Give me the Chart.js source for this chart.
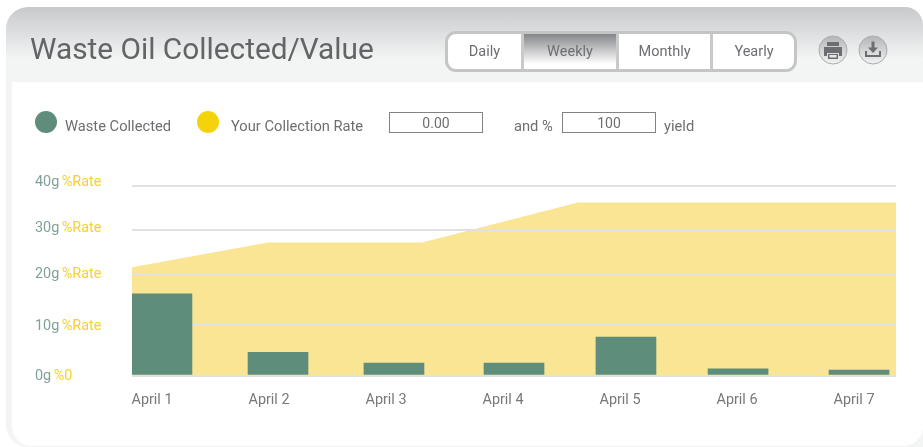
<!DOCTYPE html>
<html>
<head>
<meta charset="utf-8">
<title>Waste Oil Collected/Value</title>
<script src="https://cdn.jsdelivr.net/npm/chart.js@4"></script>
<style>
    html, body { margin: 0; padding: 0; background: #fff; overflow: hidden; }
    body { width: 923px; height: 447px; position: relative; font-family: Roboto, sans-serif; color: #6d6e71; }
    div { box-sizing: border-box; }
    .card { position: absolute; left: 6px; top: 7px; width: 917px; height: 440px; border-radius: 22px 18px 0 22px; background: linear-gradient(#c8c9cb 0, #f3f4f4 52px); }
    .panel { position: absolute; left: 12px; top: 82px; width: 911px; height: 364px; background: #fff; border-radius: 0 0 20px 20px; }
    #chart { position: absolute; left: 0; top: 0; }
    .abs { position: absolute; white-space: nowrap; }
    .title { left: 30px; top: 31px; font-size: 29.8px; line-height: 36px; color: #636466; }
    .tabs { position: absolute; left: 445px; top: 31px; width: 352px; height: 41px; border: 3px solid #c4c6c6; border-radius: 11px; background: #fff; overflow: hidden; }
    .tab { position: absolute; top: 0; height: 35px; line-height: 35px; text-align: center; font-size: 14.5px; border-right: 3px solid #c8caca; }
    .tab.on { background: linear-gradient(#85868a 0, #fff 30px); }
    .dot { position: absolute; top: 111px; width: 22px; height: 22px; border-radius: 50%; }
    .lbl { top: 117px; font-size: 14.7px; line-height: 18px; }
    .box { position: absolute; top: 112px; height: 21px; border: 1px solid #808285; text-align: center; font-size: 14px; line-height: 20px; }
    .ico { position: absolute; top: 35px; }
</style>
</head>
<body>
<div class="card"></div>
<div class="panel"></div>
<canvas id="chart" width="923" height="447"></canvas>

<div class="abs title">Waste Oil Collected/Value</div>

<div class="tabs">
    <div class="tab" style="left:0;width:76px">Daily</div>
    <div class="tab on" style="left:76px;width:95px">Weekly</div>
    <div class="tab" style="left:171px;width:94px">Monthly</div>
    <div class="tab" style="left:265px;width:82px;border-right:0">Yearly</div>
</div>

<svg class="ico" style="left:818px" width="30" height="30" viewBox="0 0 30 30">
    <circle cx="15" cy="15" r="14" fill="url(#btn)" stroke="#a9abad"/>
    <defs><linearGradient id="btn" x1="0" y1="0" x2="0" y2="1"><stop offset="0" stop-color="#b4b5b7"/><stop offset="1" stop-color="#f1f2f2"/></linearGradient></defs>
    <path d="M9 7h12v4H9z M6 12h18v9h-3v-3H9v3H6z" fill="#6d6e71"/>
    <path d="M10 19h10v5H10z" fill="#6d6e71"/>
    <path d="M11.5 20h7v2.5h-7z" fill="#e6e7e8"/>
</svg>
<svg class="ico" style="left:858px" width="30" height="30" viewBox="0 0 30 30">
    <circle cx="15" cy="15" r="14" fill="url(#btn)" stroke="#a9abad"/>
    <path d="M13.500 6.500h3v6h3.500l-5 5.500-5-5.500h3.500z" fill="#6d6e71"/>
    <path d="M7 16h2v4h12v-4h2v6H7z" fill="#6d6e71"/>
</svg>

<div class="dot" style="left:35px;background:#5f8d7c"></div>
<div class="abs lbl" style="left:65px">Waste Collected</div>
<div class="dot" style="left:197px;background:#f5d30a"></div>
<div class="abs lbl" style="left:231px">Your Collection Rate</div>
<div class="box" style="left:389px;width:94px">0.00</div>
<div class="abs lbl" style="left:514px">and %</div>
<div class="box" style="left:562px;width:94px">100</div>
<div class="abs lbl" style="left:664px">yield</div>

<script>
// x axis is in days, bars in the picture are not quite centered on their labels
const dayTicks = [1, 2, 3, 4, 5, 6, 7];
const dayLabels = ['April 1', 'April 2', 'April 3', 'April 4', 'April 5', 'April 6', 'April 7'];

const wasteDays = [1.085, 2.077, 3.068, 4.094, 5.051, 6.009, 7.043];
const wasteValues = [17.2, 4.9, 2.6, 2.6, 8.1, 1.4, 1.15];

const rateDays = [0.829, 1.991, 3.308, 4.641, 7.359];
const rateValues = [22.8, 28, 28, 36.4, 36.4];

// gridlines in the picture are unevenly spaced, so these are not round numbers
const gridValues = [0, 10.8, 21.4, 30.7, 40];
const gramLabels = ['0g', '10g', '20g', '30g', '40g'];
const rateLabels = ['%0', '%Rate', '%Rate', '%Rate', '%Rate'];

// draws the two colored parts of each y axis label
const yLabelsPlugin = {
    id: 'yLabels',
    afterDraw(chart) {
        const ctx = chart.ctx;
        const scale = chart.scales.y;
        const nudge = [1, 2, 1, -1.5, -3.5];
        ctx.save();
        ctx.font = '14.4px Roboto, sans-serif';
        ctx.textBaseline = 'middle';
        ctx.textAlign = 'left';
        gridValues.forEach((v, i) => {
            const y = scale.getPixelForValue(v) + nudge[i];
            ctx.fillStyle = '#7fa294';
            ctx.fillText(gramLabels[i], 35, y);
            ctx.fillStyle = '#f5d327';
            ctx.fillText(rateLabels[i], 34 + ctx.measureText(gramLabels[i] + ' ').width, y);
        });
        ctx.restore();
    }
};

new Chart(document.getElementById('chart'), {
    type: 'bar',
    data: {
        datasets: [{
            type: 'bar',
            label: 'Waste Collected',
            data: wasteDays.map((d, i) => ({ x: d, y: wasteValues[i] })),
            backgroundColor: '#5f8d7c',
            barThickness: 60
        }, {
            type: 'line',
            label: 'Your Collection Rate',
            data: rateDays.map((d, i) => ({ x: d, y: rateValues[i] })),
            fill: 'origin',
            backgroundColor: '#f9e594',
            borderWidth: 0,
            pointRadius: 0,
            tension: 0
        }]
    },
    options: {
        responsive: false,
        animation: false,
        layout: { padding: { left: 132, right: 27, top: 185.5, bottom: 0 } },
        plugins: {
            legend: { display: false },
            tooltip: { enabled: false },
            title: { display: false },
            // fill goes under the gridlines, bars stay on top of them
            filler: { drawTime: 'beforeDraw' }
        },
        scales: {
            x: {
                type: 'linear',
                offset: false,
                min: 0.829,
                max: 7.359,
                grid: { display: false, offset: false },
                border: { display: false },
                afterBuildTicks: (scale) => { scale.ticks = dayTicks.map(v => ({ value: v })); },
                afterFit: (scale) => { scale.height = 71.5; },
                ticks: {
                    autoSkip: false,
                    maxRotation: 0,
                    padding: 8,
                    color: '#77787b',
                    font: { family: 'Roboto, sans-serif', size: 14.4 },
                    callback: (value, index) => dayLabels[index]
                }
            },
            y: {
                type: 'linear',
                min: 0,
                max: 40,
                grid: { color: '#e1e1e1', lineWidth: 2, drawTicks: false },
                border: { display: false },
                afterBuildTicks: (scale) => { scale.ticks = gridValues.map(v => ({ value: v })); },
                afterFit: (scale) => { scale.width = 0; },
                ticks: { display: false }
            }
        }
    },
    plugins: [yLabelsPlugin]
});
</script>
</body>
</html>
